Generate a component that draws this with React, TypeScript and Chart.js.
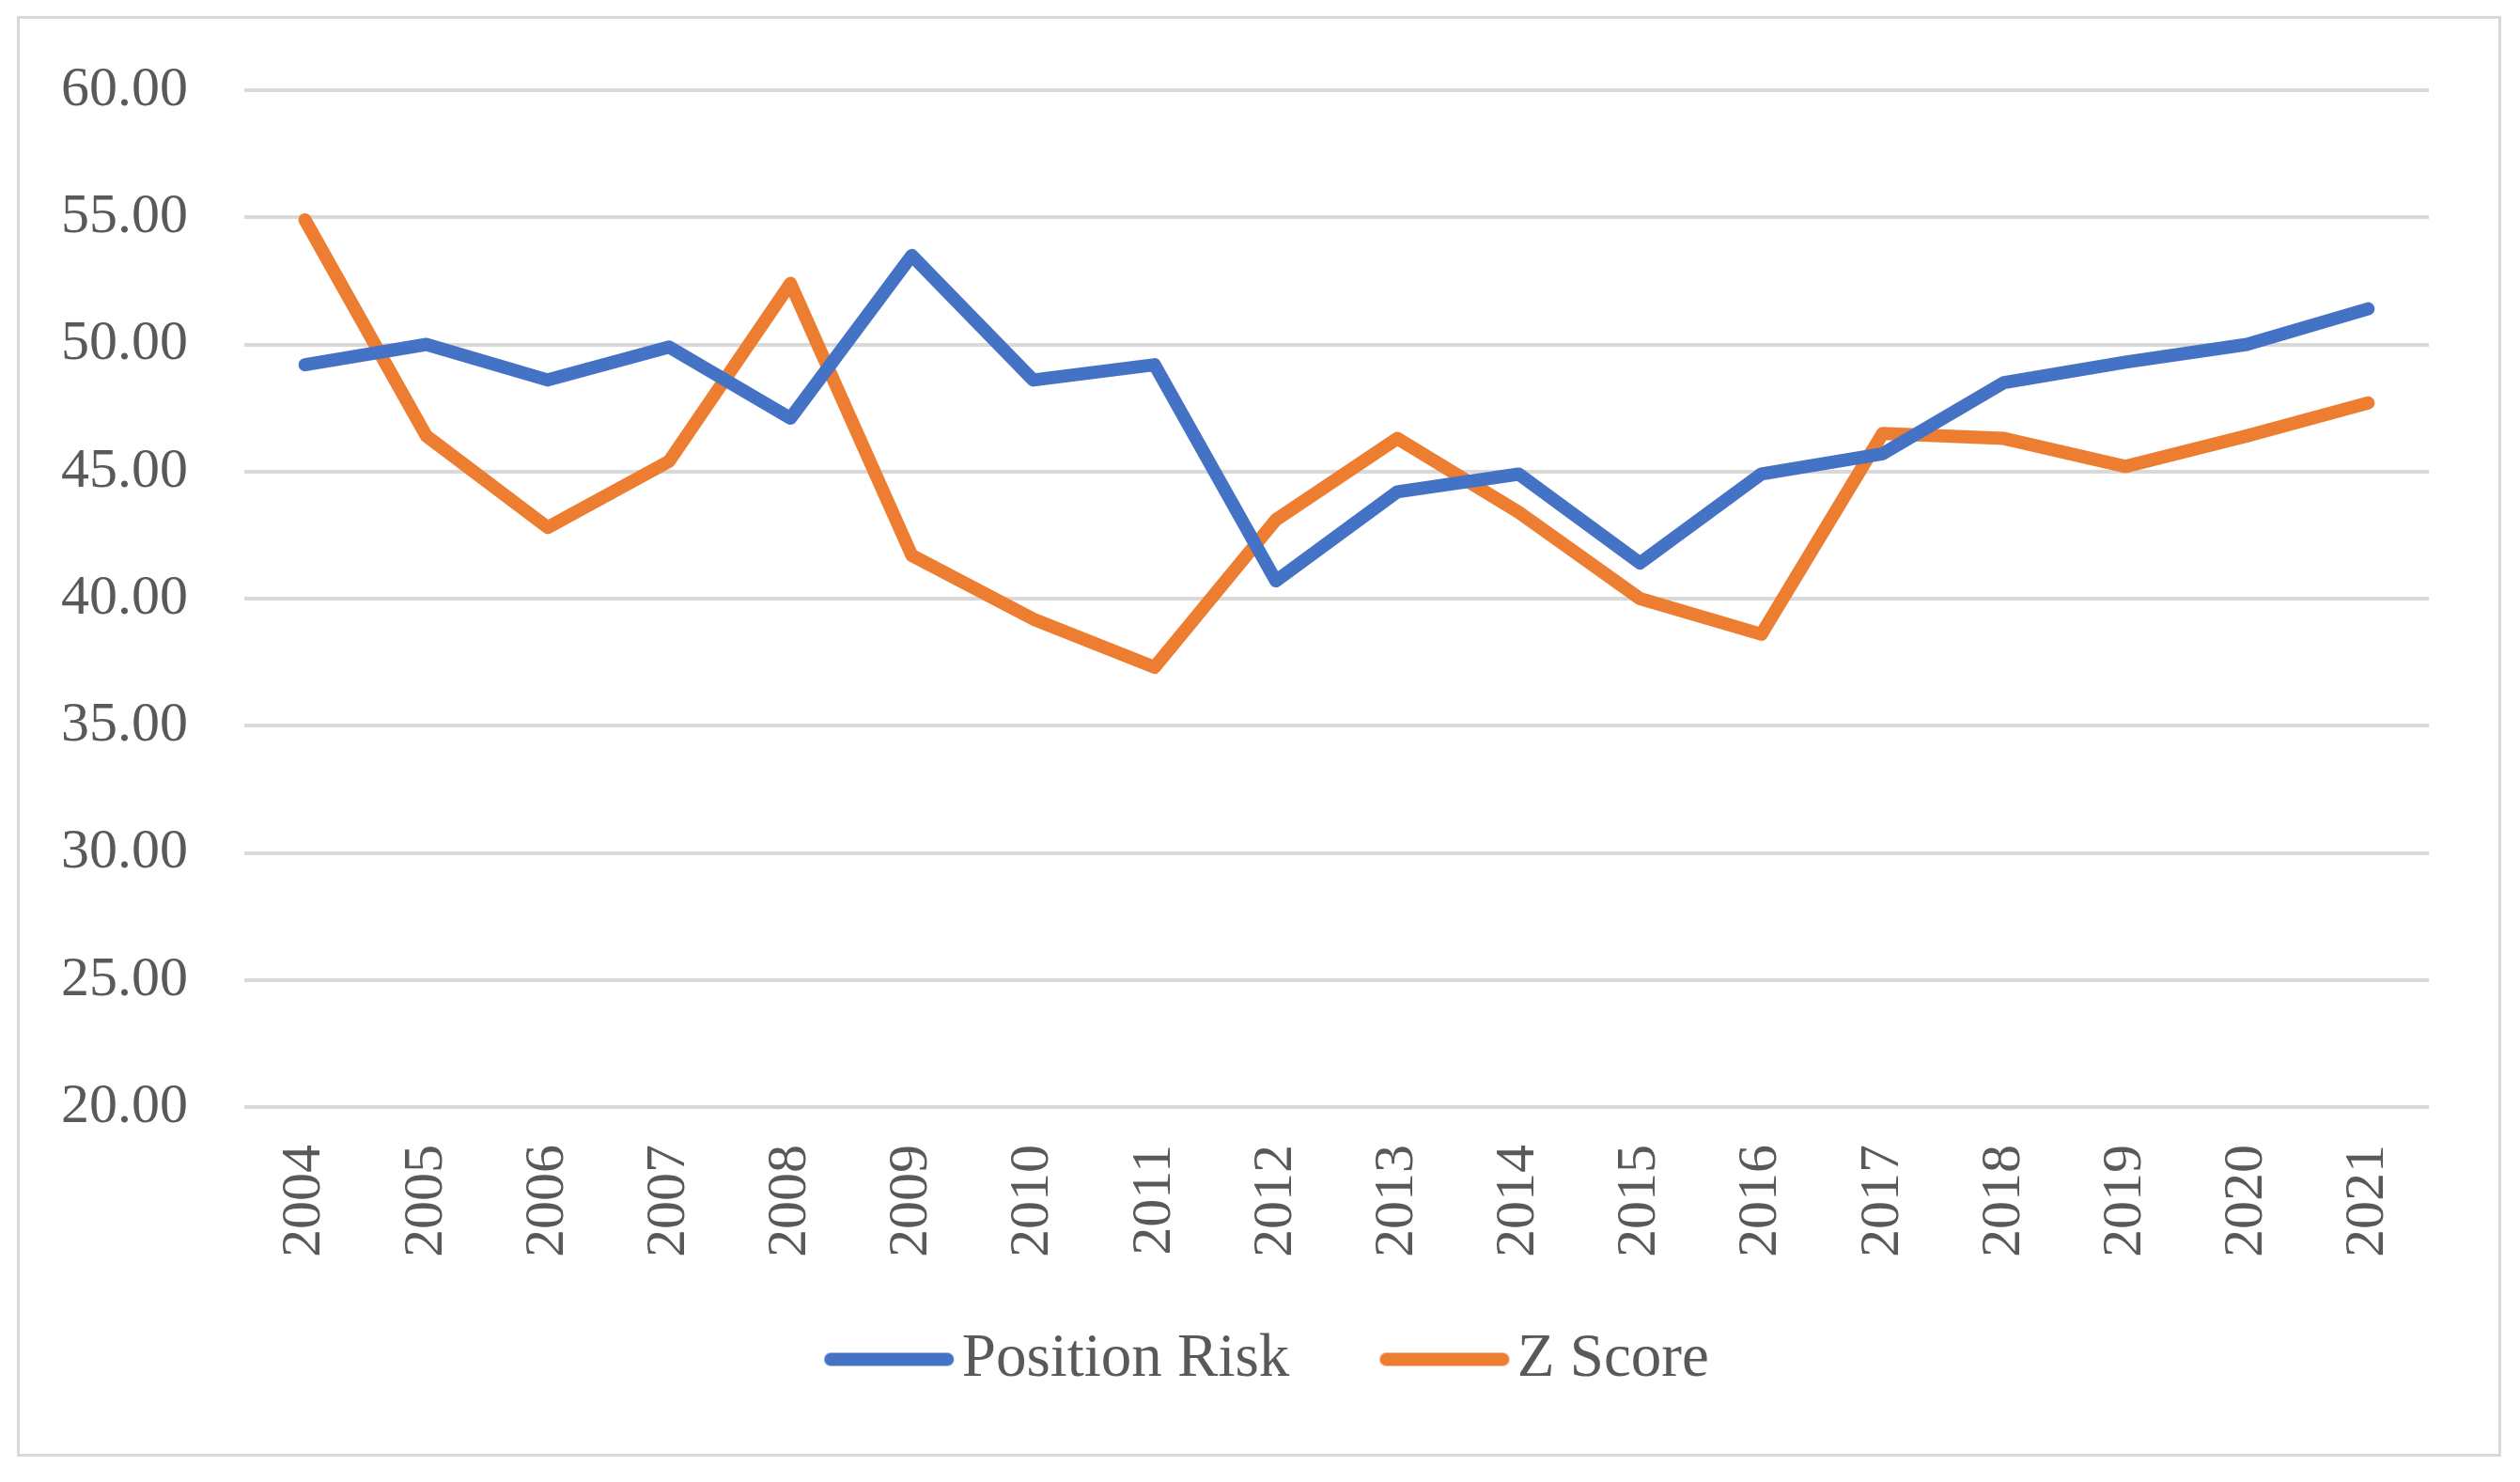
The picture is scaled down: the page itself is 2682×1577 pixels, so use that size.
import React, { useEffect, useRef } from 'react';
import { Chart, registerables } from 'chart.js';

Chart.register(...registerables);

const years = ['2004', '2005', '2006', '2007', '2008', '2009', '2010', '2011', '2012', '2013', '2014', '2015', '2016', '2017', '2018', '2019', '2020', '2021'];
const positionRisk = [49.2, 50.0, 48.6, 49.9, 47.1, 53.5, 48.6, 49.2, 40.7, 44.2, 44.9, 41.4, 44.9, 45.7, 48.5, 49.3, 50.0, 51.4];
const zScore = [54.9, 46.4, 42.8, 45.4, 52.4, 41.7, 39.2, 37.3, 43.1, 46.3, 43.4, 40.0, 38.6, 46.5, 46.3, 45.2, 46.4, 47.7];
const seriesNames = ['Position Risk', 'Z Score'];
const seriesColors = ['#4472C4', '#ED7D31'];
const yMin = 20;
const yMax = 60;
const yStep = 5;

const W = 2682;
const H = 1577;
const FONT = "'Liberation Serif', 'Times New Roman', serif";
const TEXT = '#595959';

function makeLegendIcon(color: string): HTMLCanvasElement {
  const c = document.createElement('canvas');
  c.width = 196;
  c.height = 18;
  const ctx = c.getContext('2d')!;
  ctx.strokeStyle = color;
  ctx.lineWidth = 14;
  ctx.lineCap = 'round';
  ctx.beginPath();
  ctx.moveTo(63, 9);
  ctx.lineTo(187, 9);
  ctx.stroke();
  return c;
}

export default function App() {
  const ref = useRef<HTMLCanvasElement | null>(null);

  useEffect(() => {
    document.body.style.margin = '0';
    const canvas = ref.current;
    if (!canvas) return;
    const icons = seriesColors.map(makeLegendIcon);
    const mkSet = (i: number, data: number[]) => ({
      label: seriesNames[i],
      data,
      borderColor: seriesColors[i],
      backgroundColor: seriesColors[i],
      borderWidth: 14,
      pointRadius: 0,
      pointHoverRadius: 0,
      tension: 0,
      borderJoinStyle: 'round',
      borderCapStyle: 'round',
      yAxisID: 'y',
    });
    const chart = new Chart(canvas, {
      type: 'line',
      data: {
        labels: years,
        datasets: [mkSet(0, positionRisk), mkSet(1, zScore)],
      },
      options: {
        responsive: false,
        animation: false,
        devicePixelRatio: 1,
        layout: { padding: { left: 0, right: 16, top: 92, bottom: 88 } },
        plugins: {
          tooltip: { enabled: false },
          title: { display: false },
          legend: {
            display: true,
            position: 'bottom',
            labels: {
              usePointStyle: true,
              pointStyleWidth: 144,
              padding: 66,
              color: TEXT,
              font: { family: FONT, size: 65 },
              generateLabels: (ch: any) => {
                const items = Chart.defaults.plugins.legend.labels.generateLabels(ch);
                return items.map((it: any, i: number) => ({ ...it, pointStyle: icons[i], lineWidth: 0 }));
              },
            },
          },
        },
        scales: {
          x: {
            type: 'category',
            offset: true,
            grid: { display: false, drawTicks: false },
            border: { display: false },
            ticks: {
              minRotation: 90,
              maxRotation: 90,
              autoSkip: false,
              padding: 40,
              color: TEXT,
              font: { family: FONT, size: 60 },
            },
            afterFit: (scale: any) => {
              scale.height = 170;
            },
          },
          y: {
            type: 'linear',
            position: 'left',
            min: yMin,
            max: yMax,
            grid: { color: '#d9d9d9', lineWidth: 4, drawTicks: false },
            border: { display: false },
            ticks: {
              stepSize: yStep,
              padding: 60,
              color: TEXT,
              font: { family: FONT, size: 60 },
              callback: (v: any) => Number(v).toFixed(2),
            },
            afterFit: (scale: any) => {
              scale.width = 260;
            },
          },
          ySpacer: {
            type: 'linear',
            position: 'right',
            display: true,
            grid: { display: false, drawTicks: false },
            border: { display: false },
            ticks: { display: false },
            afterFit: (scale: any) => {
              scale.width = 81;
            },
          },
        },
      },
    } as any);
    return () => chart.destroy();
  }, []);

  return (
    <div style={{ position: 'fixed', left: 0, top: 0, width: W, height: H, background: '#ffffff' }}>
      <canvas ref={ref} width={W} height={H} style={{ position: 'absolute', left: 0, top: 0, width: W, height: H }} />
      <div
        style={{
          position: 'absolute',
          left: 18,
          top: 17,
          width: 2644,
          height: 1533,
          boxSizing: 'border-box',
          border: '3px solid #d9d9d9',
          pointerEvents: 'none',
        }}
      />
    </div>
  );
}
